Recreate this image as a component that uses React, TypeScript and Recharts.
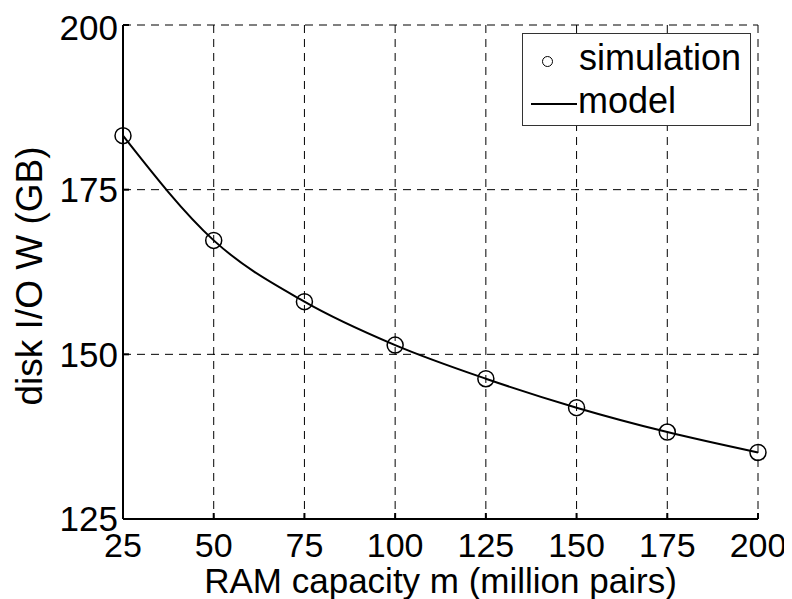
import React from 'react';
import { LineChart, Line, XAxis, YAxis, CartesianGrid } from 'recharts';

const ramCapacity = [25, 50, 75, 100, 125, 150, 175, 200];
const simulation = [183.2, 167.3, 158.0, 151.4, 146.3, 141.9, 138.2, 135.1];
const model = [183.2, 167.3, 158.0, 151.4, 146.3, 141.9, 138.2, 135.1];
const xTicks = [25, 50, 75, 100, 125, 150, 175, 200];
const yTicks = [125, 150, 175, 200];

const data = ramCapacity.map((m, i) => ({ m, simulation: simulation[i], model: model[i] }));

const FONT = '"Liberation Sans", Arial, Helvetica, sans-serif';

// legend drawn over the chart so it doesn't eat plot height
const LegendBox = () => (
  <div
    style={{
      position: 'absolute',
      left: 514,
      top: 25,
      width: 229,
      height: 93,
      boxSizing: 'border-box',
      border: '1.5px solid #333',
      background: '#fff',
      fontFamily: FONT,
      fontSize: 36,
      color: '#000',
    }}
  >
    <div style={{ position: 'absolute', left: 19, top: 22, width: 11, height: 11, borderRadius: '50%', border: '1.5px solid #000', boxSizing: 'border-box' }} />
    <div style={{ position: 'absolute', left: 56, top: 4, lineHeight: '40px' }}>simulation</div>
    <div style={{ position: 'absolute', left: 8, top: 69, width: 46, height: 0, borderTop: '2px solid #000' }} />
    <div style={{ position: 'absolute', left: 55, top: 47, lineHeight: '40px' }}>model</div>
  </div>
);

const YLabel = ({ viewBox }: any) => {
  const x = viewBox.x + 21;
  const y = viewBox.y + viewBox.height / 2 + 4;
  return (
    <text x={x} y={y} transform={`rotate(-90 ${x} ${y})`} textAnchor="middle" dominantBaseline="central" fontFamily={FONT} fontSize={37} fill="#000">
      disk I/O W (GB)
    </text>
  );
};

export default function App() {
  return (
    <div style={{ width: 784, height: 591, background: '#fff', position: 'relative' }}>
      <LineChart width={784} height={591} data={data} margin={{ top: 17, right: 34, left: 0, bottom: 0 }}>
        <CartesianGrid stroke="#000" strokeWidth={1} strokeDasharray="8 6" />
        <XAxis
          dataKey="m"
          type="number"
          domain={[25, 200]}
          ticks={xTicks}
          height={80}
          stroke="#000"
          strokeWidth={2}
          tickSize={-6}
          tickMargin={20}
          tick={{ fill: '#000', fontSize: 34, fontFamily: FONT }}
          label={{ value: 'RAM capacity m (million pairs)', position: 'insideBottom', offset: 6, fill: '#000', fontSize: 35, fontFamily: FONT }}
        />
        <XAxis
          xAxisId="top"
          orientation="top"
          dataKey="m"
          type="number"
          domain={[25, 200]}
          ticks={xTicks}
          height={0}
          stroke="#000"
          strokeWidth={2}
          tickSize={-6}
          tick={false}
        />
        <YAxis
          type="number"
          domain={[125, 200]}
          ticks={yTicks}
          width={115}
          stroke="#000"
          strokeWidth={2}
          tickSize={-6}
          tickMargin={11}
          tick={{ fill: '#000', fontSize: 35, fontFamily: FONT }}
          label={<YLabel />}
        />
        <YAxis
          yAxisId="right"
          orientation="right"
          type="number"
          domain={[125, 200]}
          ticks={yTicks}
          width={0}
          stroke="#000"
          strokeWidth={2}
          tickSize={-6}
          tick={false}
        />
        <Line
          type="monotone"
          dataKey="model"
          stroke="#000"
          strokeWidth={2}
          dot={false}
          isAnimationActive={false}
        />
        <Line
          type="linear"
          dataKey="simulation"
          stroke="none"
          dot={{ r: 8, stroke: '#000', strokeWidth: 1.5, fill: 'none' }}
          isAnimationActive={false}
        />
      </LineChart>
      <LegendBox />
    </div>
  );
}
